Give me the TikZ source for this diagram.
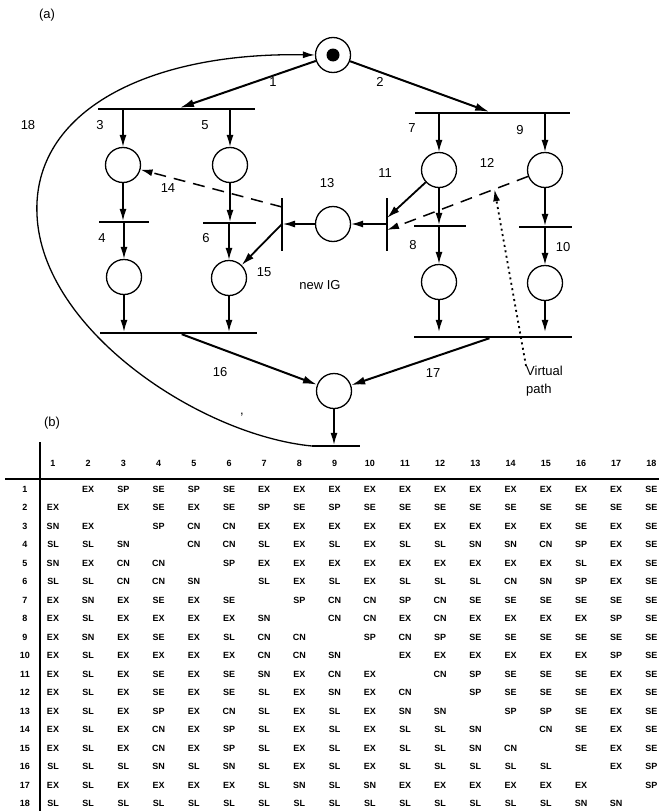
\documentclass[tikz,border=0pt]{standalone}
\usepackage{fontspec}
\setmainfont{Liberation Sans}
\usetikzlibrary{arrows.meta, positioning, calc}

\begin{document}
\begin{tikzpicture}[
    x=1pt, y=-1pt,
    every node/.style={font=\fontsize{13}{18}\selectfont},
    place/.style={draw, circle, line width=1.3pt, minimum size=35pt, inner sep=0pt},
    token/.style={fill, circle, minimum size=13pt, inner sep=0pt},
    hbar/.style={fill, rectangle, minimum width=#1, minimum height=2pt, inner sep=0pt},
    vbar/.style={fill, rectangle, minimum width=1.6pt, minimum height=53pt, inner sep=0pt},
    arc/.style={-{Latex[length=12pt,width=7pt]}, line width=1.3pt},
    midarc/.style={-{Latex[length=13pt,width=7.5pt]}, line width=1.8pt},
    thickarc/.style={-{Latex[length=14pt,width=8pt]}, line width=2pt},
    dasharc/.style={arc, line width=1.5pt, dash pattern=on 12pt off 8pt},
    virtual/.style={-{Latex[length=12pt,width=7pt]}, line width=1.8pt, dash pattern=on 2pt off 3.5pt},
    cell/.style={font=\fontsize{9}{10}\selectfont\bfseries, inner sep=1pt}
    ]
    \useasboundingbox (0,0) rectangle (659,811);

    % (a) net
    \node (tagA) at (47,15) {(a)};
    \node[place] (p0) at (333,55) {};
    \node[token] (tok) at (p0) {};
    \node[hbar=157pt] (t1) at (176.5,109) {};
    \node[hbar=155pt] (t2) at (492.5,113) {};
    \node[place] (p3) at (123,165) {};
    \node[place] (p5) at (230,165) {};
    \node[place] (p7) at (439,170) {};
    \node[place] (p9) at (545,170) {};
    \node[hbar=50pt] (t4) at (124,222) {};
    \node[hbar=53pt] (t6) at (229.5,223) {};
    \node[hbar=52pt] (t8) at (440,226) {};
    \node[hbar=53pt] (t10) at (545.5,227) {};
    \node[place] (p4) at (124,277) {};
    \node[place] (p6) at (229,278) {};
    \node[place] (p8) at (439,282) {};
    \node[place] (p10) at (545,283) {};
    \node[vbar] (tn13) at (282,224) {};
    \node[vbar] (tn11) at (387,224) {};
    \node[place] (p13) at (333,224) {};
    \node[hbar=157pt] (t16) at (178.5,333) {};
    \node[hbar=158pt] (t17) at (493,337) {};
    \node[place] (p18) at (334,391) {};
    \node[hbar=48pt] (t18) at (336,446) {};
    \coordinate (c18) at (37,215);

    \draw[thickarc] (p0) -- (t1);
    \draw[thickarc] (p0) -- (t2);
    \foreach \p/\a/\b/\q in {p3/t1/t4/p4, p5/t1/t6/p6, p7/t2/t8/p8, p9/t2/t10/p10} {
        \draw[arc] (\a.south -| \p) -- (\p);
        \draw[arc] (\p) -- (\p |- \b.north);
        \draw[arc] (\q |- \b.south) -- (\q);
        \draw[arc] (\q) -- (\q |- t16.north);
    }
    \draw[thickarc] (t16) -- (p18);
    \draw[thickarc] (t17) -- (p18);
    \draw[arc] (p18) -- (p18 |- t18.north);
    \draw[arc] (t18.west) .. controls (200,435) and (42,330) .. (c18)
        .. controls (32,110) and (150,52) .. (p0.west);
    \draw[arc] (p13) -- (tn13);
    \draw[arc] (tn11) -- (p13);
    \draw[midarc] (p7) -- ([yshift=6pt]tn11.center);
    \draw[dasharc] (p9) -- ([yshift=-6pt]tn11.center);
    \draw[dasharc] ([yshift=17pt]tn13.center) -- (p3);
    \draw[midarc] (tn13.center) -- (p6);
    \coordinate (hit) at ($(p9.center)!0.32!([yshift=-6pt]tn11.center)$);

    \node (l1) at (273,82) {1};
    \node (l2) at (380,82) {2};
    \node (l18) at (28,125) {18};
    \node (l3) at (100,125) {3};
    \node (l5) at (205,125) {5};
    \node (l7) at (412,128) {7};
    \node (l9) at (520,130) {9};
    \node (l14) at (168,188) {14};
    \node (l13) at (327,183) {13};
    \node (l11) at (385,173) {11};
    \node (l12) at (487,163) {12};
    \node (l4) at (102,238) {4};
    \node (l6) at (206,238) {6};
    \node (l8) at (413,245) {8};
    \node (l10) at (563,247) {10};
    \node (l15) at (264,272) {15};
    \node (newig) at (320,285) {new IG};
    \node (l16) at (220,372) {16};
    \node (l17) at (433,373) {17};
    \node[align=left, anchor=north west, inner sep=0pt] (vp) at (526,366) {Virtual\\path};
    \draw[virtual] (vp.north west) -- (hit);
    \node (speck) at (242,415) {,};

    % (b) table
    \node (tagB) at (52,423) {(b)};
    \draw[line width=1.8pt] (5,479) -- (659,479);
    \draw[line width=1.8pt] (40,442) -- (40,811);
    \foreach \j in {1,...,18}
        \node[cell] (h\j) at ({53+(\j-1)*35.2},463) {\j};
    \foreach \r in {1,...,18}
        \node[cell] (r\r) at (25,{489+(\r-1)*18.5}) {\r};
    \foreach \r/\cells in {
        1/{--,EX,SP,SE,SP,SE,EX,EX,EX,EX,EX,EX,EX,EX,EX,EX,EX,SE},
        2/{EX,--,EX,SE,EX,SE,SP,SE,SP,SE,SE,SE,SE,SE,SE,SE,SE,SE},
        3/{SN,EX,--,SP,CN,CN,EX,EX,EX,EX,EX,EX,EX,EX,EX,SE,EX,SE},
        4/{SL,SL,SN,--,CN,CN,SL,EX,SL,EX,SL,SL,SN,SN,CN,SP,EX,SE},
        5/{SN,EX,CN,CN,--,SP,EX,EX,EX,EX,EX,EX,EX,EX,EX,SL,EX,SE},
        6/{SL,SL,CN,CN,SN,--,SL,EX,SL,EX,SL,SL,SL,CN,SN,SP,EX,SE},
        7/{EX,SN,EX,SE,EX,SE,--,SP,CN,CN,SP,CN,SE,SE,SE,SE,SE,SE},
        8/{EX,SL,EX,EX,EX,EX,SN,--,CN,CN,EX,CN,EX,EX,EX,EX,SP,SE},
        9/{EX,SN,EX,SE,EX,SL,CN,CN,--,SP,CN,SP,SE,SE,SE,SE,SE,SE},
        10/{EX,SL,EX,EX,EX,EX,CN,CN,SN,--,EX,EX,EX,EX,EX,EX,SP,SE},
        11/{EX,SL,EX,SE,EX,SE,SN,EX,CN,EX,--,CN,SP,SE,SE,SE,EX,SE},
        12/{EX,SL,EX,SE,EX,SE,SL,EX,SN,EX,CN,--,SP,SE,SE,SE,EX,SE},
        13/{EX,SL,EX,SP,EX,CN,SL,EX,SL,EX,SN,SN,--,SP,SP,SE,EX,SE},
        14/{EX,SL,EX,CN,EX,SP,SL,EX,SL,EX,SL,SL,SN,--,CN,SE,EX,SE},
        15/{EX,SL,EX,CN,EX,SP,SL,EX,SL,EX,SL,SL,SN,CN,--,SE,EX,SE},
        16/{SL,SL,SL,SN,SL,SN,SL,EX,SL,EX,SL,SL,SL,SL,SL,--,EX,SP},
        17/{EX,SL,EX,EX,EX,EX,SL,SN,SL,SN,EX,EX,EX,EX,EX,EX,--,SP},
        18/{SL,SL,SL,SL,SL,SL,SL,SL,SL,SL,SL,SL,SL,SL,SL,SN,SN,--}} {
        \foreach \c [count=\j] in \cells {
            \ifnum\j=\r\else
                \node[cell] (c\r-\j) at ({53+(\j-1)*35.2},{489+(\r-1)*18.5}) {\c};
            \fi
        }
    }
\end{tikzpicture}
\end{document}
